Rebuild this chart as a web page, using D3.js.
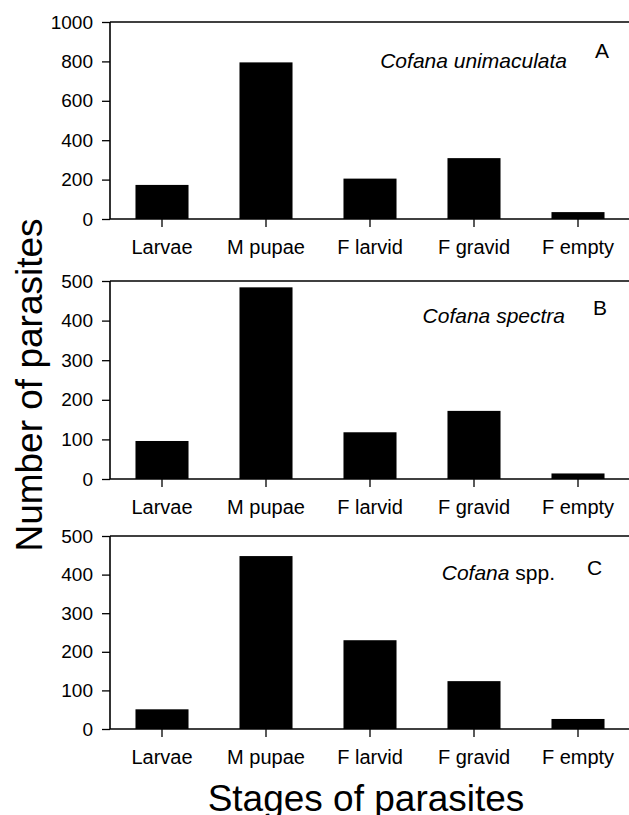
<!DOCTYPE html>
<html>
<head>
<meta charset="utf-8">
<script src="https://cdn.jsdelivr.net/npm/d3@7"></script>
<style>
  html, body { margin: 0; padding: 0; background: #fff; }
  svg { display: block; font-family: "Liberation Sans", Arial, Helvetica, sans-serif; }
</style>
</head>
<body>
<svg id="chart" width="629" height="815"></svg>
<script>
// ---- data ----
const categories = ["Larvae", "M pupae", "F larvid", "F gravid", "F empty"];
const valuesA = [173, 795, 205, 309, 35];   // Cofana unimaculata
const valuesB = [96, 484, 118, 172, 14];    // Cofana spectra
const valuesC = [51, 448, 230, 124, 26];    // Cofana spp.
const ticksA = [0, 200, 400, 600, 800, 1000];
const ticksBC = [0, 100, 200, 300, 400, 500];
const panelLetters = ["A", "B", "C"];
const speciesNames = ["Cofana unimaculata", "Cofana spectra", "Cofana"];
const xTitle = "Stages of parasites";
const yTitle = "Number of parasites";

// ---- layout ----
const W = 629;
const axisX = 110, rightX = 630;
const panels = [
  { values: valuesA, ticks: ticksA, max: 1000, top: 22,  bottom: 219, labelX: 567, labelY: 68,  letterX: 595, letterY: 58 },
  { values: valuesB, ticks: ticksBC, max: 500, top: 281, bottom: 479, labelX: 565, labelY: 323, letterX: 593, letterY: 315 },
  { values: valuesC, ticks: ticksBC, max: 500, top: 536, bottom: 729, labelX: 555, labelY: 580, letterX: 587, letterY: 575 }
];

const svg = d3.select("#chart");

const x = d3.scaleBand().domain(categories).range([axisX, rightX]).paddingInner(0.49).paddingOuter(0.245);

panels.forEach((p, i) => {
  const y = d3.scaleLinear().domain([0, p.max]).range([p.bottom, p.top]);
  const g = svg.append("g");

  // bars
  g.selectAll("rect.bar").data(p.values).join("rect")
    .attr("class", "bar")
    .attr("x", (d, j) => x(categories[j]))
    .attr("width", x.bandwidth())
    .attr("y", d => y(d))
    .attr("height", d => y(0) - y(d))
    .attr("fill", "#000");

  // top frame line
  g.append("line")
    .attr("x1", axisX).attr("x2", W)
    .attr("y1", y(p.max)).attr("y2", y(p.max))
    .attr("stroke", "#000").attr("stroke-width", 1.6);

  // y axis
  const yAxis = d3.axisLeft(y).tickValues(p.ticks).tickSize(8).tickPadding(9).tickFormat(d3.format("d"));
  const ya = g.append("g").attr("transform", `translate(${axisX},0)`).call(yAxis);
  ya.select(".domain").attr("stroke-width", 1.6).attr("d", `M0,${p.top}V${p.bottom}`);
  ya.selectAll(".tick line").attr("stroke-width", 1.3);
  ya.selectAll(".tick text").attr("font-size", 19).attr("fill", "#000")
    .attr("font-family", "'Liberation Sans', Arial, sans-serif");

  // x axis
  const xAxis = d3.axisBottom(x).tickSize(8).tickPadding(13);
  const xa = g.append("g").attr("transform", `translate(0,${p.bottom})`).call(xAxis);
  xa.select(".domain").attr("stroke-width", 1.6).attr("d", `M${axisX},0H${W}`);
  xa.selectAll(".tick line").attr("stroke-width", 1.3);
  xa.selectAll(".tick text").attr("font-size", 20).attr("fill", "#000")
    .attr("font-family", "'Liberation Sans', Arial, sans-serif");

  // species label
  const t = g.append("text")
    .attr("x", p.labelX).attr("y", p.labelY)
    .attr("text-anchor", "end")
    .attr("font-size", 21);
  t.append("tspan").attr("font-style", "italic").text(speciesNames[i]);
  if (i === 2) t.append("tspan").text(" spp.");

  // panel letter
  g.append("text")
    .attr("x", p.letterX).attr("y", p.letterY)
    .attr("font-size", 21)
    .text(panelLetters[i]);
});

// axis titles
svg.append("text")
  .attr("x", 366).attr("y", 811)
  .attr("text-anchor", "middle")
  .attr("font-size", 37)
  .text(xTitle);

svg.append("text")
  .attr("transform", "translate(42,385) rotate(-90)")
  .attr("text-anchor", "middle")
  .attr("font-size", 37)
  .text(yTitle);
</script>
</body>
</html>
